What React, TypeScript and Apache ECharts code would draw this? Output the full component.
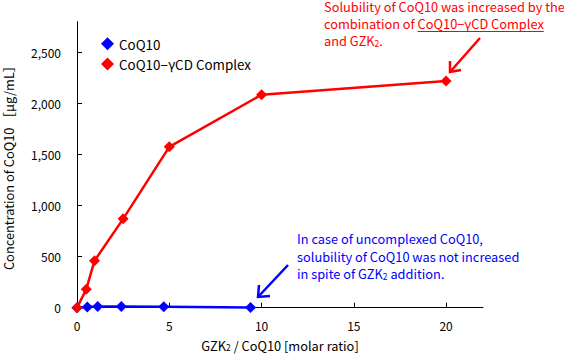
import React, { useEffect, useRef } from "react";
import * as echarts from "echarts";

const seriesNames = ["CoQ10", "CoQ10\u2212\u03b3CD Complex"];
const coq10X = [0, 0.56, 1.12, 2.4, 4.7, 9.4];
const coq10Y = [0, 6, 12, 12, 10, 2];
const complexX = [0, 0.5, 0.95, 2.5, 5, 10, 20];
const complexY = [0, 180, 460, 870, 1575, 2085, 2220];
const xTicks = [0, 5, 10, 15, 20];
const yTicks = [0, 500, 1000, 1500, 2000, 2500];

const FONT = "'Noto Sans CJK JP', 'Noto Sans', sans-serif";

function measure(text: string, font: string): number {
  const c = document.createElement("canvas").getContext("2d")!;
  c.font = font;
  return c.measureText(text).width;
}

export default function App() {
  const ref = useRef<HTMLDivElement>(null);
  useEffect(() => {
    const chart = echarts.init(ref.current!, null, { renderer: "svg" });
    const red = "#ff0000";
    const blue = "#0000ff";
    const fs = 12;
    const afs = 12.8;
    const afont = `${afs}px ${FONT}`;
    const redLeft = 324;
    const ulX1 = redLeft + measure("combination of ", afont);
    const ulX2 = ulX1 + measure("CoQ10\u2212\u03b3CD Complex", afont);
    chart.setOption({
      animation: false,
      textStyle: { fontFamily: FONT },
      grid: {
        left: 77,
        right: 81,
        top: 21.7,
        bottom: 54.3,
        containLabel: false,
        outerBoundsMode: "none",
      },
      legend: {
        orient: "vertical",
        left: 96,
        top: 32,
        itemGap: 7,
        itemWidth: 13,
        itemHeight: 13,
        icon: "diamond",
        textStyle: { fontSize: 13.4, color: "#000", fontFamily: FONT },
        data: seriesNames,
      },
      xAxis: {
        type: "value",
        min: 0,
        max: 22,
        interval: 5,
        name: "GZK{s|2} / CoQ10 [molar ratio]",
        nameLocation: "middle",
        nameGap: 31,
        nameTextStyle: {
          fontSize: afs,
          color: "#000",
          fontFamily: FONT,
          rich: { s: { fontSize: 8.5, color: "#000", fontFamily: FONT, padding: [4, 0, 0, 0] } },
        },
        axisLine: { lineStyle: { color: "#000", width: 1 } },
        axisTick: { inside: true, length: 5, lineStyle: { color: "#000" }, customValues: xTicks },
        axisLabel: { customValues: xTicks, color: "#000", fontSize: fs, margin: 12, fontFamily: FONT },
        splitLine: { show: false },
      },
      yAxis: {
        type: "value",
        min: 0,
        max: 2800,
        interval: 500,
        name: "Concentration of CoQ10 \uff3b\u03bcg/mL\uff3d",
        nameLocation: "middle",
        nameGap: 62,
        nameTextStyle: { fontSize: afs, color: "#000", fontFamily: FONT },
        axisLine: { show: true, lineStyle: { color: "#000", width: 1 } },
        axisTick: { show: true, inside: true, length: 5, lineStyle: { color: "#000" }, customValues: yTicks },
        axisLabel: {
          customValues: yTicks,
          color: "#000",
          fontSize: fs,
          margin: 16,
          fontFamily: FONT,
          formatter: (v: number) => v.toLocaleString("en-US"),
        },
        splitLine: { show: false },
      },
      series: [
        {
          name: seriesNames[0],
          type: "line",
          data: coq10X.map((x, i) => [x, coq10Y[i]]),
          symbol: "diamond",
          symbolSize: 11,
          itemStyle: { color: blue },
          lineStyle: { color: blue, width: 2.5 },
          z: 3,
        },
        {
          name: seriesNames[1],
          type: "line",
          data: complexX.map((x, i) => [x, complexY[i]]),
          symbol: "diamond",
          symbolSize: 11,
          itemStyle: { color: red },
          lineStyle: { color: red, width: 2.5 },
          z: 4,
        },
      ],
      graphic: [
        {
          type: "text",
          left: redLeft,
          top: -2,
          style: {
            text: "Solubility of CoQ10 was increased by the\ncombination of CoQ10\u2212\u03b3CD Complex\nand GZK{s|2}.",
            fill: red,
            font: afont,
            lineHeight: 17,
            rich: { s: { fontSize: 8.5, fill: red, fontFamily: FONT, padding: [4, 0, 0, 0] } },
          },
        },
        { type: "line", shape: { x1: ulX1, y1: 31.5, x2: ulX2, y2: 31.5 }, style: { stroke: red, lineWidth: 1 } },
        { type: "line", shape: { x1: 480, y1: 38, x2: 450, y2: 72 }, style: { stroke: red, lineWidth: 2.5 } },
        {
          type: "polyline",
          shape: { points: [[450, 61], [450, 72], [461, 70]] },
          style: { stroke: red, lineWidth: 2.5, fill: null },
        },
        {
          type: "text",
          left: 297,
          top: 230,
          style: {
            text: "In case of uncomplexed CoQ10,\nsolubility of CoQ10 was not increased\nin spite of GZK{s|2} addition.",
            fill: blue,
            font: afont,
            lineHeight: 17.5,
            rich: { s: { fontSize: 8.5, fill: blue, fontFamily: FONT, padding: [4, 0, 0, 0] } },
          },
        },
        { type: "line", shape: { x1: 288, y1: 265, x2: 258, y2: 297 }, style: { stroke: blue, lineWidth: 2.5 } },
        {
          type: "polyline",
          shape: { points: [[259, 285], [258, 297], [270, 296]] },
          style: { stroke: blue, lineWidth: 2.5, fill: null },
        },
      ],
    });
    return () => chart.dispose();
  }, []);
  return (
    <div
      ref={ref}
      style={{ position: "absolute", left: 0, top: 0, width: 564, height: 362 }}
    />
  );
}
